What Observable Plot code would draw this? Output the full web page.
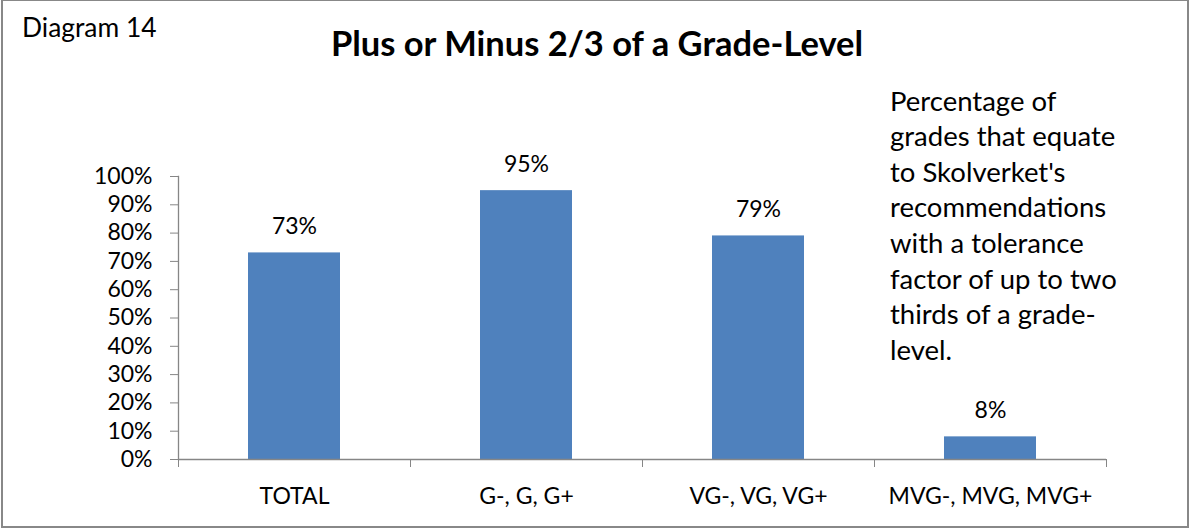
<!DOCTYPE html>
<html><head><meta charset="utf-8">
<script src="https://cdn.jsdelivr.net/npm/d3@7"></script>
<script src="https://cdn.jsdelivr.net/npm/@observablehq/plot@0.6"></script>
<style>
html,body{margin:0;padding:0;background:#fff;}
#wrap{position:relative;width:1190px;height:529px;overflow:hidden;font-family:Lato,sans-serif;color:#000;background:#fff;}
#border{position:absolute;left:1px;top:-1px;width:1188px;height:529px;border:2px solid #888;box-sizing:border-box;pointer-events:none;z-index:3;}
#chart{position:absolute;left:0;top:0;z-index:1;}
.ov{position:absolute;white-space:nowrap;z-index:2;}
#diag{left:22px;top:14px;font-size:26.4px;line-height:1;}
#title{left:597px;top:26.4px;transform:translateX(-50%);font-size:34.5px;font-weight:bold;line-height:1;}
#note{left:890px;top:82.6px;font-size:27.5px;line-height:35.6px;}
</style>
</head><body>
<div id="wrap">
  <div id="chart"></div>
  <div class="ov" id="diag">Diagram 14</div>
  <div class="ov" id="title">Plus or Minus 2/3 of a Grade-Level</div>
  <div class="ov" id="note">Percentage of<br>grades that equate<br>to Skolverket's<br>recommendations<br>with a tolerance<br>factor of up to two<br>thirds of a grade-<br>level.</div>
  <div id="border"></div>
</div>
<script>
const categories = ["TOTAL", "G-, G, G+", "VG-, VG, VG+", "MVG-, MVG, MVG+"];
const values = [0.73, 0.95, 0.79, 0.08];
const valueLabels = ["73%", "95%", "79%", "8%"];
const yTicks = [0, 0.1, 0.2, 0.3, 0.4, 0.5, 0.6, 0.7, 0.8, 0.9, 1.0];

const data = categories.map((c, i) => ({cat: c, value: values[i], label: valueLabels[i]}));

const W = 1190, H = 529, ML = 178, MR = 84, MT = 176, MB = 70;
const halfStep = (W - ML - MR) / categories.length / 2;
const axisGray = "#868686";

const chart = Plot.plot({
  width: W, height: H,
  marginLeft: ML, marginRight: MR, marginTop: MT, marginBottom: MB,
  style: {fontFamily: "Lato, sans-serif", fontSize: "23px", color: "#000", background: "transparent", overflow: "visible"},
  x: {domain: categories, padding: 0, axis: null, label: null},
  y: {domain: [0, 1], axis: null, label: null},
  marks: [
    Plot.barY(data, {x: "cat", y: "value", fill: "#4F81BD", insetLeft: 70, insetRight: 70}),
    Plot.ruleY([0], {stroke: axisGray, strokeWidth: 1.3}),
    Plot.frame({anchor: "left", stroke: axisGray, strokeWidth: 1.3}),
    Plot.axisY({ticks: yTicks, tickFormat: d3.format(".0%"), tickSize: 8, tickPadding: 18, stroke: axisGray, fill: "#000", label: null}),
    Plot.axisX({ticks: categories, tickSize: 8, tickFormat: () => "", dx: -halfStep, stroke: axisGray, label: null}),
    Plot.axisX({ticks: [categories[categories.length - 1]], tickSize: 8, tickFormat: () => "", dx: halfStep, stroke: axisGray, label: null}),
    Plot.axisX({ticks: categories, tickSize: 0, tickPadding: 28, fill: "#000", label: null}),
    Plot.text(data, {x: "cat", y: "value", text: "label", dy: -26, fill: "#000"})
  ]
});
document.getElementById("chart").appendChild(chart);
</script>
</body></html>
